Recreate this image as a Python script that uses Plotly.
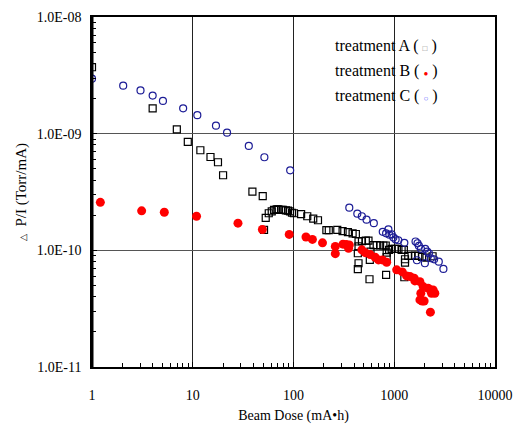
import plotly.graph_objects as go

# Beam dose (mA*h) and normalised pressure rise (Torr/mA) for three treatments
dose_a = [1.0, 4.0, 6.95, 8.93, 11.9, 15.0, 17.8, 20.0, 39.1, 49.5, 51, 53.0, 56.8, 60.8,
          64.1, 68.1, 70.7, 76, 78.6, 84, 88.1, 92.3, 96.6, 101, 119, 137, 157, 175, 212,
          224, 272, 307, 347, 386, 416, 442, 435, 442, 435, 442, 478, 522, 555, 581, 572,
          568, 622, 670, 724, 780, 823, 841, 841, 830, 889, 943, 1018, 1100, 1183, 1245,
          1279, 1279, 1259, 1377, 1486, 1604, 1730, 1892, 2089, 2400]
ratio_a = [3.71e-9, 1.65e-9, 1.09e-9, 8.49e-10, 7.21e-10, 6.31e-10, 5.69e-10, 4.4e-10,
           3.19e-10, 2.92e-10, 1.50e-10, 1.90e-10, 2.08e-10, 2.16e-10, 2.22e-10, 2.25e-10,
           2.25e-10, 2.22e-10, 2.22e-10, 2.20e-10, 2.19e-10, 2.16e-10, 2.10e-10, 2.08e-10,
           2.04e-10, 1.96e-10, 1.87e-10, 1.81e-10, 1.49e-10, 1.49e-10, 1.50e-10, 1.46e-10,
           1.43e-10, 1.40e-10, 1.38e-10, 1.08e-10, 9.44e-11, 7.75e-11, 6.89e-11, 1.19e-10,
           1.20e-10, 1.21e-10, 1.21e-10, 9.75e-11, 8.28e-11, 5.65e-11, 1.11e-10, 1.11e-10,
           1.10e-10, 1.10e-10, 1.10e-10, 9.55e-11, 8.73e-11, 6.15e-11, 1.01e-10, 1.03e-10,
           1.03e-10, 1.03e-10, 1.01e-10, 1.01e-10, 8.39e-11, 7.85e-11, 5.88e-11, 8.95e-11,
           8.95e-11, 9.0e-11, 8.95e-11, 8.8e-11, 8.67e-11, 8.9e-11]

dose_b = [1.21, 3.11, 5.22, 10.9, 28.1, 49.1, 90.7, 133, 154, 194, 260, 260, 310, 334,
          358, 352, 477, 515, 577, 646, 697, 763, 841, 1057, 1202, 1327, 1432, 1578,
          1603, 1798, 1937, 2171, 2307, 2431, 2528, 2342, 1836, 1798, 1892, 1980, 2285]
ratio_b = [2.58e-10, 2.18e-10, 2.12e-10, 1.96e-10, 1.71e-10, 1.51e-10, 1.37e-10, 1.30e-10,
           1.24e-10, 1.16e-10, 1.08e-10, 9.37e-11, 1.13e-10, 1.12e-10, 1.11e-10, 1.04e-10,
           1.01e-10, 9.55e-11, 9.19e-11, 8.73e-11, 8.28e-11, 8.28e-11, 7.91e-11, 6.8e-11,
           6.53e-11, 6.04e-11, 5.96e-11, 5.77e-11, 5.47e-11, 5.39e-11, 4.89e-11, 4.73e-11,
           4.58e-11, 4.58e-11, 4.29e-11, 4.29e-11, 4.29e-11, 3.76e-11, 3.68e-11, 3.68e-11,
           2.95e-11]

dose_c = [1.0, 2.04, 3.03, 4.0, 5.06, 8.03, 11.1, 17.0, 21.9, 36, 51.4, 92.7, 358, 430,
          477, 531, 627, 769, 875, 830, 895, 943, 980, 1032, 1097, 1259, 1627, 1702, 1758,
          1840, 2028, 2124, 2208, 1679, 2014, 2306, 2488, 2767, 3076]
ratio_c = [2.96e-9, 2.58e-9, 2.35e-9, 2.12e-9, 1.91e-9, 1.65e-9, 1.44e-9, 1.17e-9, 1.02e-9,
           7.85e-10, 6.28e-10, 4.85e-10, 2.32e-10, 2.06e-10, 1.96e-10, 1.83e-10, 1.71e-10,
           1.44e-10, 1.51e-10, 1.40e-10, 1.36e-10, 1.37e-10, 1.29e-10, 1.24e-10, 1.22e-10,
           1.16e-10, 1.19e-10, 1.15e-10, 1.09e-10, 1.03e-10, 1.03e-10, 9.75e-11, 9.44e-11,
           8.22e-11, 7.75e-11, 8.55e-11, 8.38e-11, 8.0e-11, 6.93e-11]

x_ticks = [1, 10, 100, 1000, 10000]
x_tick_text = ["1", "10", "100", "1000", "10000"]
y_ticks = [1e-11, 1e-10, 1e-9, 1e-8]
y_tick_text = ["1.0E-11", "1.0E-10", "1.0E-09", "1.0E-08"]

x_minor = [m * 10 ** d for d in range(4) for m in range(2, 10)]
y_minor = [m * 10.0 ** d for d in range(-11, -8) for m in range(2, 10)]

FONT = "Liberation Serif"
ML, MR, MT, MB = 92, 18, 17, 57
PLOT_W = 513 - ML - MR

fig = go.Figure()
fig.add_trace(go.Scatter(
    x=dose_a, y=ratio_a, mode="markers", name="treatment A",
    marker=dict(symbol="square-open", size=7, color="black", line=dict(width=1.2)),
))
fig.add_trace(go.Scatter(
    x=dose_b, y=ratio_b, mode="markers", name="treatment B",
    marker=dict(symbol="circle", size=9, color="#ff0000", line=dict(width=0)),
))
fig.add_trace(go.Scatter(
    x=dose_c, y=ratio_c, mode="markers", name="treatment C",
    marker=dict(symbol="circle-open", size=7, color="#1c1c96", line=dict(width=1.2)),
))

fig.update_xaxes(
    type="log", range=[-0.00001, 4.00001], tickmode="array", tickvals=x_ticks,
    ticktext=x_tick_text, automargin=False, ticklabeloverflow="allow",
    showgrid=True, gridcolor="#222222", gridwidth=1,
    showline=True, linecolor="black", linewidth=1.5, mirror=True,
    ticks="inside", ticklen=5, tickcolor="black", ticklabelstandoff=14,
    minor=dict(tickmode="array", tickvals=x_minor, ticks="inside", ticklen=4,
               tickcolor="black", showgrid=False),
    tickfont=dict(family=FONT, size=14, color="black"),
    title=dict(text="Beam Dose (mA•h)", font=dict(family=FONT, size=14, color="black"),
               standoff=9),
    zeroline=False,
)
fig.update_yaxes(
    type="log", range=[-11.00001, -7.99999], tickmode="array", tickvals=y_ticks,
    ticktext=y_tick_text, automargin=False, ticklabeloverflow="allow",
    showgrid=True, gridcolor="#555555", gridwidth=1,
    showline=True, linecolor="black", linewidth=1.5, mirror=True,
    ticks="inside", ticklen=5, tickcolor="black", ticklabelstandoff=6,
    minor=dict(tickmode="array", tickvals=y_minor, ticks="inside", ticklen=4,
               tickcolor="black", showgrid=False),
    tickfont=dict(family=FONT, size=14, color="black"),
    zeroline=False,
)

# Y-axis title, placed as rotated text left of the tick labels
fig.add_annotation(
    xref="paper", yref="paper", x=(21 - ML) / PLOT_W, y=0.5,
    xanchor="center", yanchor="middle", textangle=-90, showarrow=False,
    text="<span style='font-size:9px'>△</span>  P/I (Torr/mA)",
    font=dict(family=FONT, size=15, color="black"),
)

# Thicker left spine
fig.add_shape(type="line", xref="paper", yref="paper", x0=0, x1=0, y0=0, y1=1,
              line=dict(color="black", width=3))

# Legend written as text lines with inline marker glyphs
legend_rows = [
    ("treatment A (", "□", "#808080", 0.917),
    ("treatment B (", "●", "#ff0000", 0.846),
    ("treatment C (", "○", "#5a5aff", 0.774),
]
for label, glyph, colour, ypos in legend_rows:
    fig.add_annotation(
        xref="paper", yref="paper", x=(333 - ML) / PLOT_W, y=ypos,
        xanchor="left", yanchor="middle", showarrow=False,
        text=f"{label} <span style='font-size:8px;color:{colour}'>{glyph}</span> )",
        font=dict(family=FONT, size=16, color="black"),
    )

fig.update_layout(
    width=513, height=424,
    margin=dict(l=ML, r=MR, t=MT, b=MB),
    paper_bgcolor="white", plot_bgcolor="white",
    showlegend=False,
)

fig.write_html("out.html")
